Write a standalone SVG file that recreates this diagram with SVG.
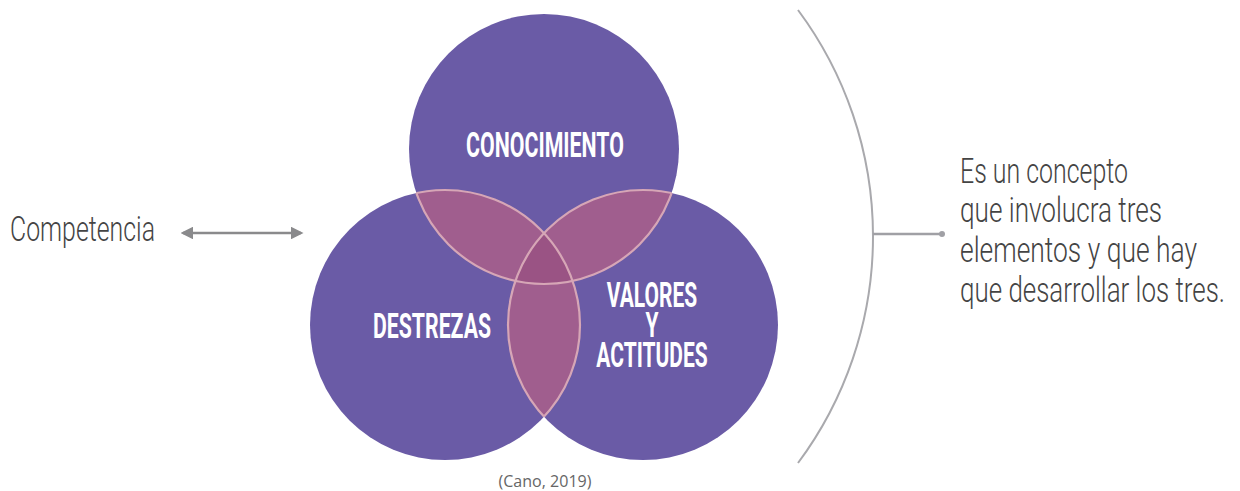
<svg xmlns="http://www.w3.org/2000/svg" width="1240" height="491" viewBox="0 0 1240 491">
<style>
.circ{fill:#6A5BA6}
.lens{fill:#A05E8E}
.core{fill:#9A5384}
.edge{fill:none;stroke:#D6A6B6;stroke-width:2.2}
.lab{font-family:"Roboto","Liberation Sans",sans-serif;font-weight:bold;font-size:21px;fill:#FFFFFF;text-anchor:middle}
.txt{font-family:"Roboto","Liberation Sans",sans-serif;font-weight:300;font-size:25px;fill:#444444}
.gl{fill:none;stroke:#8A8A8C;stroke-width:2.5}
</style>
<defs>
<clipPath id="cT"><circle cx="544" cy="149" r="135"/></clipPath>
<clipPath id="cL"><circle cx="445" cy="325" r="135"/></clipPath>
<clipPath id="cR"><circle cx="643" cy="325" r="135"/></clipPath>
<clipPath id="cLR"><circle cx="445" cy="325" r="135"/><circle cx="643" cy="325" r="135"/></clipPath>
<clipPath id="cTR"><circle cx="544" cy="149" r="135"/><circle cx="643" cy="325" r="135"/></clipPath>
<clipPath id="cTL"><circle cx="544" cy="149" r="135"/><circle cx="445" cy="325" r="135"/></clipPath>
<marker id="ah" viewBox="0 0 10 10" refX="8" refY="5" markerWidth="5" markerHeight="5" orient="auto-start-reverse" markerUnits="strokeWidth">
<path d="M0,0 L10,5 L0,10 Z" fill="#8A8A8C"/>
</marker>
</defs>

<g id="circle-conocimiento">
<circle class="circ" cx="544" cy="149" r="135"/>
</g>
<g id="circle-destrezas">
<circle class="circ" cx="445" cy="325" r="135"/>
</g>
<g id="circle-valores">
<circle class="circ" cx="643" cy="325" r="135"/>
</g>
<g id="overlaps">
<circle class="lens" cx="544" cy="149" r="135" clip-path="url(#cLR)"/>
<circle class="lens" cx="445" cy="325" r="135" clip-path="url(#cR)"/>
<g clip-path="url(#cL)"><circle class="core" cx="544" cy="149" r="135" clip-path="url(#cR)"/></g>
<circle class="edge" cx="544" cy="149" r="135" clip-path="url(#cLR)"/>
<circle class="edge" cx="445" cy="325" r="135" clip-path="url(#cTR)"/>
<circle class="edge" cx="643" cy="325" r="135" clip-path="url(#cTL)"/>
</g>
<g id="labels">
<text class="lab" transform="translate(545,157) scale(1,1.667)" x="0" y="0" textLength="158" lengthAdjust="spacingAndGlyphs">CONOCIMIENTO</text>
<text class="lab" transform="translate(432,338) scale(1,1.667)" x="0" y="0" textLength="118" lengthAdjust="spacingAndGlyphs">DESTREZAS</text>
<text class="lab" transform="translate(652,0) scale(1,1.667)"><tspan x="0" y="184.2">VALORES</tspan><tspan x="0" y="202.2">Y</tspan><tspan x="0" y="220.2">ACTITUDES</tspan></text>
</g>

<g id="competencia">
<text class="txt" transform="translate(10,241) scale(1,1.4)" x="0" y="0" textLength="145" lengthAdjust="spacingAndGlyphs">Competencia</text>
</g>
<g id="connectors">
<line class="gl" x1="183" y1="233" x2="301" y2="233" marker-start="url(#ah)" marker-end="url(#ah)"/>
<path d="M798,10 A379.5,379.5 0 0 1 798,463" fill="none" stroke="#A9A9AD" stroke-width="2"/>
<line x1="873" y1="234" x2="942" y2="234" stroke="#A0A0A5" stroke-width="2.5"/>
<circle cx="942" cy="234" r="3" fill="#A0A0A5"/>
</g>
<g id="description">
<text class="txt" transform="translate(960,183) scale(1,1.44)" x="0" y="0" textLength="168" lengthAdjust="spacingAndGlyphs">Es un concepto</text>
<text class="txt" transform="translate(960,222) scale(1,1.44)" x="0" y="0" textLength="202" lengthAdjust="spacingAndGlyphs">que involucra tres</text>
<text class="txt" transform="translate(960,262) scale(1,1.44)" x="0" y="0" textLength="237" lengthAdjust="spacingAndGlyphs">elementos y que hay</text>
<text class="txt" transform="translate(960,302) scale(1,1.44)" x="0" y="0" textLength="265" lengthAdjust="spacingAndGlyphs">que desarrollar los tres.</text>
</g>
<g id="source">
<text x="545" y="487" font-family="'Open Sans','Liberation Sans',sans-serif" font-size="15.5" fill="#666666" text-anchor="middle" textLength="93" lengthAdjust="spacingAndGlyphs">(Cano, 2019)</text>
</g>
</svg>
